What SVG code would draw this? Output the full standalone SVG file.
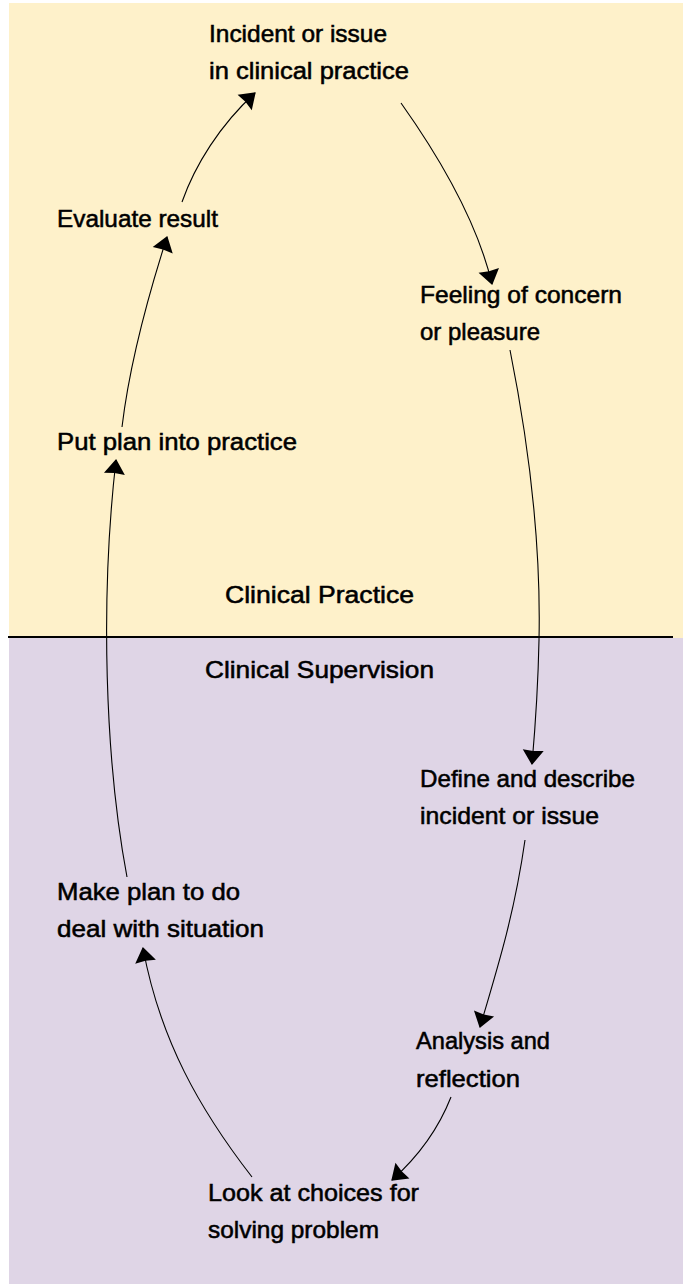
<svg xmlns="http://www.w3.org/2000/svg" width="683" height="1285" viewBox="0 0 683 1285">
<style>
.bg{stroke:none}
.t{font-family:"Liberation Sans",Arial,sans-serif;font-size:24.5px;fill:#000;stroke:#000;stroke-width:0.55px}
.c{fill:none;stroke:#000;stroke-width:1.1}
</style>
<defs>
<marker id="ah" markerUnits="userSpaceOnUse" markerWidth="40" markerHeight="40" refX="0" refY="0" orient="auto" overflow="visible">
<path d="M1,0 L-14,-10.5 L-13,0 L-14,10.5 Z" fill="#000"/>
</marker>
</defs>
<rect class="bg" x="0" y="0" width="683" height="1285" fill="#ffffff"/>
<rect id="practice-zone" class="bg" x="9" y="3" width="674" height="635" fill="#FEF1CA"/>
<rect id="supervision-zone" class="bg" x="9" y="638" width="674" height="646" fill="#DFD5E6"/>
<line x1="8" y1="637" x2="673" y2="637" stroke="#000" stroke-width="2"/>
<g id="connectors">
<path class="c" marker-end="url(#ah)" d="M401,103 C445,165 478,225 492,284"/>
<path class="c" marker-end="url(#ah)" d="M510,350 C530,450 541,550 539,640 C538,690 535,730 532,764"/>
<path class="c" marker-end="url(#ah)" d="M525,840 C515,910 500,960 480,1027"/>
<path class="c" marker-end="url(#ah)" d="M451,1097 C440,1125 420,1155 392,1180"/>
<path class="c" marker-end="url(#ah)" d="M252,1177 C200,1110 160,1040 143,948"/>
<path class="c" marker-end="url(#ah)" d="M127,877 C105,760 100,600 116,460"/>
<path class="c" marker-end="url(#ah)" d="M122,427 C130,360 150,290 167,237"/>
<path class="c" marker-end="url(#ah)" d="M182,202 C195,165 220,125 255,93"/>
</g>
<g id="incident">
<text class="t" x="209" y="42" textLength="178" lengthAdjust="spacingAndGlyphs">Incident or issue</text>
<text class="t" x="209" y="79" textLength="200" lengthAdjust="spacingAndGlyphs">in clinical practice</text>
</g>
<g id="feeling">
<text class="t" x="420" y="303" textLength="202" lengthAdjust="spacingAndGlyphs">Feeling of concern</text>
<text class="t" x="420" y="340" textLength="120" lengthAdjust="spacingAndGlyphs">or pleasure</text>
</g>
<g id="define">
<text class="t" x="420" y="787" textLength="215" lengthAdjust="spacingAndGlyphs">Define and describe</text>
<text class="t" x="420" y="824" textLength="179" lengthAdjust="spacingAndGlyphs">incident or issue</text>
</g>
<g id="analysis">
<text class="t" x="416" y="1049" textLength="134" lengthAdjust="spacingAndGlyphs">Analysis and</text>
<text class="t" x="416" y="1087" textLength="104" lengthAdjust="spacingAndGlyphs">reflection</text>
</g>
<g id="choices">
<text class="t" x="208" y="1201" textLength="211" lengthAdjust="spacingAndGlyphs">Look at choices for</text>
<text class="t" x="208" y="1238" textLength="171" lengthAdjust="spacingAndGlyphs">solving problem</text>
</g>
<g id="make-plan">
<text class="t" x="57" y="900" textLength="183" lengthAdjust="spacingAndGlyphs">Make plan to do</text>
<text class="t" x="57" y="937" textLength="207" lengthAdjust="spacingAndGlyphs">deal with situation</text>
</g>
<g id="put-plan">
<text class="t" x="57" y="450" textLength="240" lengthAdjust="spacingAndGlyphs">Put plan into practice</text>
</g>
<g id="evaluate">
<text class="t" x="57" y="227" textLength="161" lengthAdjust="spacingAndGlyphs">Evaluate result</text>
</g>
<g id="labels">
<text class="t" x="225" y="603" textLength="189" lengthAdjust="spacingAndGlyphs">Clinical Practice</text>
<text class="t" x="205" y="678" textLength="229" lengthAdjust="spacingAndGlyphs">Clinical Supervision</text>
</g>
</svg>
